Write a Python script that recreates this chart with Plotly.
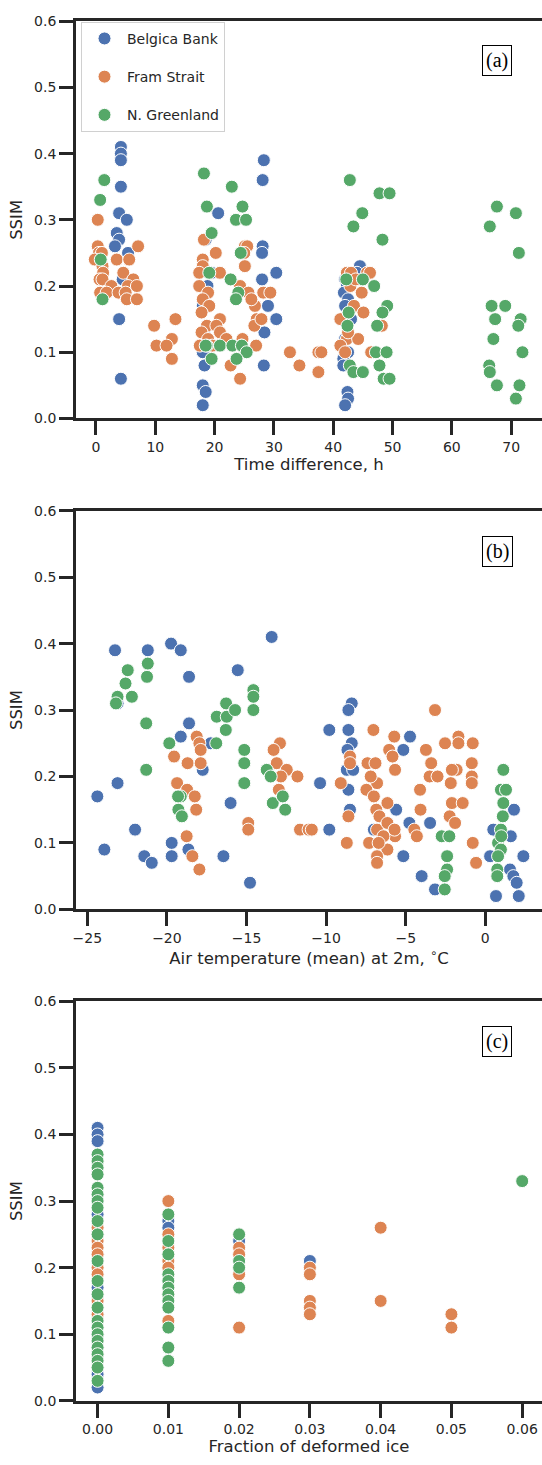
import plotly.graph_objects as go

# ---------------- data ----------------
series_names = ["Belgica Bank", "Fram Strait", "N. Greenland"]
series_colors = ["#4C72B0", "#DD8452", "#55A868"]

# panel (a): time difference, h
a_belgica_x = [4.2, 4.2, 4.2, 4.2, 3.9, 5.2, 3.5, 3.9, 3.2, 5.4, 4.5, 3.9, 4.2,
               20.6, 18.5, 19.5, 18.8, 18.0, 18.2, 18.0, 18.3, 18.0, 18.5, 18.0,
               28.3, 28.1, 28.1, 28.0, 30.4, 28.0, 29.0, 30.4, 28.4, 28.3,
               44.5, 44.0, 42.0, 42.3, 41.8, 42.5, 42.0, 43.0, 42.0, 42.5, 41.7, 41.7, 42.4, 42.5, 42.0]
a_belgica_y = [0.41, 0.40, 0.39, 0.35, 0.31, 0.30, 0.28, 0.27, 0.26, 0.25, 0.21, 0.15, 0.06,
               0.31, 0.27, 0.22, 0.20, 0.17, 0.13, 0.10, 0.08, 0.05, 0.04, 0.02,
               0.39, 0.36, 0.26, 0.25, 0.22, 0.21, 0.17, 0.15, 0.13, 0.08,
               0.23, 0.22, 0.21, 0.20, 0.19, 0.18, 0.17, 0.15, 0.12, 0.10, 0.09, 0.08, 0.04, 0.03, 0.02]
a_fram_x = [0.3, 0.3, 7.1, 0.5, 1.0, -0.2, 3.5, 5.6, 1.1, 1.2, 4.6, 0.6, 1.1, 6.3, 2.6, 5.4, 6.9, 0.7, 1.8, 3.8, 5.0, 5.2, 6.9,
            9.8, 13.4, 12.8, 10.2, 11.9, 12.8,
            18.2, 20.2, 18.0, 18.0, 17.4, 20.9, 17.4, 18.9, 18.0, 19.1, 17.8, 20.9, 18.7, 20.3, 17.8, 20.9, 18.9, 17.5, 19.6,
            22.0, 22.7, 24.3, 24.7, 24.5, 27.0,
            25.1, 25.5, 25.1, 24.3, 25.7, 26.8, 27.1, 26.7, 27.9, 28.2, 29.4, 26.2, 25.0,
            32.7, 34.3, 37.5, 38.0, 37.5,
            42.3, 43.0, 45.7, 46.2, 42.9, 44.8, 43.5, 41.2, 45.1, 42.3, 44.2, 41.2, 42.0, 46.4, 42.5, 48.2, 43.8]
a_fram_y = [0.30, 0.26, 0.26, 0.25, 0.25, 0.24, 0.24, 0.24, 0.23, 0.22, 0.22, 0.21, 0.21, 0.21, 0.20, 0.20, 0.20, 0.19, 0.19, 0.19, 0.19, 0.18, 0.18,
            0.14, 0.15, 0.12, 0.11, 0.11, 0.09,
            0.27, 0.25, 0.24, 0.23, 0.22, 0.22, 0.20, 0.19, 0.18, 0.17, 0.16, 0.15, 0.14, 0.14, 0.13, 0.13, 0.12, 0.11, 0.11,
            0.12, 0.08, 0.06, 0.12, 0.11, 0.11,
            0.26, 0.26, 0.23, 0.20, 0.19, 0.17, 0.15, 0.14, 0.15, 0.19, 0.19, 0.18, 0.25,
            0.10, 0.08, 0.10, 0.10, 0.07,
            0.22, 0.22, 0.22, 0.22, 0.20, 0.19, 0.17, 0.15, 0.16, 0.12, 0.12, 0.11, 0.10, 0.10, 0.13, 0.14, 0.21]
a_green_x = [1.4, 0.7, 0.8, 1.1,
             18.2, 18.7, 19.5, 19.1, 18.7, 20.9, 23.0, 19.5, 18.5,
             22.9, 24.7, 23.6, 25.3, 24.4, 22.7, 24.0, 23.6, 24.6, 25.4, 23.7,
             42.8, 47.8, 49.5, 44.9, 43.4, 48.3, 42.2, 45.0, 46.9, 49.1, 48.3, 42.6, 42.4, 47.4, 47.2, 49.0, 42.8, 43.4, 45.0, 47.8, 48.5, 49.5,
             67.6, 66.4, 70.8, 71.3, 66.7, 69.0, 67.3, 71.6, 71.2, 67.0, 71.9, 66.3, 66.4, 67.6, 71.4, 70.8]
a_green_y = [0.36, 0.33, 0.24, 0.18,
             0.37, 0.32, 0.28, 0.22, 0.11, 0.11, 0.11, 0.09, 0.11,
             0.35, 0.32, 0.30, 0.30, 0.25, 0.21, 0.19, 0.18, 0.11, 0.10, 0.09,
             0.36, 0.34, 0.34, 0.31, 0.29, 0.27, 0.21, 0.21, 0.20, 0.17, 0.16, 0.16, 0.14, 0.14, 0.10, 0.10, 0.08, 0.07, 0.07, 0.08, 0.06, 0.06,
             0.32, 0.29, 0.31, 0.25, 0.17, 0.17, 0.15, 0.15, 0.14, 0.12, 0.10, 0.08, 0.07, 0.05, 0.05, 0.03]

# panel (b): air temperature (mean) at 2 m, deg C
b_belgica_x = [-23.26, -21.2, -19.74, -19.13, -18.61, -13.42, -15.55, -18.61, -19.13, -17.75, -17.25, -23.1, -24.37, -16.0,
               -22.0, -23.93, -21.42, -20.95, -19.7, -19.7, -18.65, -16.45, -14.78, -23.1,
               -8.39, -8.6, -9.8, -8.6, -8.39, -8.66, -8.7, -8.3, -4.73, -5.15, -10.38, -8.6, -8.5, -9.8, -5.6, -4.77,
               -3.47, -5.15, -4.0, -3.16, 1.8, 0.5, 0.3, 2.39, 1.55, 1.76, 1.97, 0.67, 2.1, 1.6, -7.0]
b_belgica_y = [0.39, 0.39, 0.40, 0.39, 0.35, 0.41, 0.36, 0.28, 0.26, 0.21, 0.25, 0.19, 0.17, 0.16,
               0.12, 0.09, 0.08, 0.07, 0.10, 0.08, 0.09, 0.08, 0.04, 0.31,
               0.31, 0.30, 0.27, 0.27, 0.25, 0.24, 0.21, 0.21, 0.26, 0.24, 0.19, 0.18, 0.15, 0.12, 0.15, 0.13,
               0.13, 0.08, 0.05, 0.03, 0.15, 0.12, 0.08, 0.08, 0.06, 0.05, 0.04, 0.02, 0.02, 0.11, 0.12]
b_fram_x = [-18.13, -17.96, -17.88, -19.55, -18.7, -17.88, -19.36, -18.73, -18.25, -18.16, -14.89, -14.89, -18.76, -18.4, -17.96,
            -12.9, -13.3, -13.1, -12.47, -12.84, -11.8, -12.97, -11.64, -11.1, -10.9,
            -3.16, -7.03, -5.72, -2.53, -1.69, -1.69, -0.79, -6.04, -3.73, -5.83, -8.5, -8.5, -7.4, -6.9, -3.4, -0.85,
            -5.67, -1.8, -2.1, -3.5, -3.0, -0.85, -6.8, -2.17, -0.85, -9.08, -7.47, -4.1, -6.15, -2.1, -1.42, -6.85,
            -4.07, -2.24, -1.9, -8.6, -6.65, -4.46, -4.3, -6.8, -6.15, -5.67, -8.7, -7.3, -6.15, -0.79, -6.8, -6.8,
            -0.58, -6.4, -6.7, -5.7, -7.2, -7.0]
b_fram_y = [0.26, 0.25, 0.24, 0.23, 0.22, 0.22, 0.19, 0.18, 0.17, 0.15, 0.13, 0.12, 0.11, 0.08, 0.06,
            0.25, 0.24, 0.22, 0.21, 0.20, 0.20, 0.18, 0.12, 0.12, 0.12,
            0.30, 0.27, 0.26, 0.25, 0.26, 0.25, 0.25, 0.24, 0.24, 0.23, 0.23, 0.22, 0.22, 0.22, 0.22, 0.22,
            0.21, 0.21, 0.21, 0.20, 0.20, 0.20, 0.19, 0.19, 0.19, 0.19, 0.18, 0.18, 0.16, 0.16, 0.16, 0.15,
            0.15, 0.14, 0.13, 0.14, 0.14, 0.12, 0.11, 0.12, 0.13, 0.11, 0.10, 0.10, 0.09, 0.10, 0.08, 0.07,
            0.07, 0.11, 0.10, 0.12, 0.20, 0.17]
b_green_x = [-22.46, -21.2, -21.25, -22.6, -23.1, -23.2, -22.2, -21.3, -21.3, -19.85, -19.13, -19.28, -19.06, -19.3,
             -16.87, -16.24, -16.28, -15.72, -16.3, -16.9, -14.57, -14.57, -14.57, -15.14, -15.14, -15.14,
             -13.73, -13.48, -13.35, -12.72, -12.57,
             1.13, 0.98, 1.3, 1.13, 1.1, 0.98, 0.8, 0.98, 0.8, 0.75, 0.75, 1.0,
             -2.74, -2.26, -2.4, -2.4, -2.55, -2.55]
b_green_y = [0.36, 0.37, 0.35, 0.34, 0.32, 0.31, 0.32, 0.28, 0.21, 0.25, 0.17, 0.15, 0.14, 0.17,
             0.29, 0.29, 0.31, 0.30, 0.27, 0.25, 0.33, 0.32, 0.30, 0.24, 0.22, 0.19,
             0.21, 0.20, 0.16, 0.17, 0.15,
             0.21, 0.18, 0.18, 0.16, 0.14, 0.12, 0.10, 0.09, 0.08, 0.06, 0.05, 0.11,
             0.11, 0.11, 0.08, 0.06, 0.05, 0.03]

# panel (c): fraction of deformed ice
c_belgica_x = [0.00] * 23 + [0.01, 0.01, 0.02, 0.03]
c_belgica_y = [0.41, 0.40, 0.39, 0.35, 0.31, 0.30, 0.28, 0.26, 0.25, 0.22, 0.21, 0.17, 0.15, 0.13, 0.12, 0.10,
               0.09, 0.08, 0.06, 0.05, 0.04, 0.03, 0.02,
               0.27, 0.26, 0.24, 0.21]
c_fram_x = [0.00] * 9 + [0.01] * 7 + [0.02] * 4 + [0.03] * 5 + [0.04] * 2 + [0.05] * 2
c_fram_y = [0.26, 0.24, 0.23, 0.22, 0.20, 0.19, 0.15, 0.13, 0.12,
            0.30, 0.25, 0.23, 0.21, 0.20, 0.16, 0.12,
            0.23, 0.22, 0.19, 0.11,
            0.20, 0.19, 0.15, 0.14, 0.13,
            0.26, 0.15,
            0.13, 0.11]
c_green_x = [0.00] * 23 + [0.01] * 12 + [0.02] * 4 + [0.06]
c_green_y = [0.37, 0.36, 0.35, 0.34, 0.32, 0.31, 0.30, 0.29, 0.27, 0.25, 0.21, 0.18, 0.16, 0.14, 0.12, 0.11,
             0.10, 0.09, 0.08, 0.07, 0.06, 0.05, 0.03,
             0.28, 0.24, 0.22, 0.19, 0.18, 0.17, 0.16, 0.15, 0.14, 0.11, 0.08, 0.06,
             0.25, 0.21, 0.20, 0.17,
             0.33]

y_ticks = [0.0, 0.1, 0.2, 0.3, 0.4, 0.5, 0.6]
a_ticks = [0, 10, 20, 30, 40, 50, 60, 70]
b_ticks = [-25, -20, -15, -10, -5, 0]
c_ticks = [0.00, 0.01, 0.02, 0.03, 0.04, 0.05, 0.06]

panel_labels = ["(a)", "(b)", "(c)"]
x_titles = ["Time difference, h",
            "Air temperature (mean) at 2m, <sup>∘</sup>C",
            "Fraction of deformed ice"]
y_title = "SSIM"

# ---------------- figure ----------------
W, H = 542, 1465
ML = 76
fig = go.Figure()

panels = [
    ([a_belgica_x, a_fram_x, a_green_x], [a_belgica_y, a_fram_y, a_green_y]),
    ([b_belgica_x, b_fram_x, b_green_x], [b_belgica_y, b_fram_y, b_green_y]),
    ([c_belgica_x, c_fram_x, c_green_x], [c_belgica_y, c_fram_y, c_green_y]),
]
for p, (xs, ys) in enumerate(panels):
    sfx = "" if p == 0 else str(p + 1)
    for s in range(3):
        fig.add_trace(go.Scatter(
            x=xs[s], y=ys[s], mode="markers", name=series_names[s],
            legendgroup=series_names[s], showlegend=(p == 0),
            marker=dict(size=13, color=series_colors[s], line=dict(color="white", width=1)),
            xaxis="x" + sfx, yaxis="y" + sfx,
        ))

def ydom(top_px, bot_px):
    return [1 - bot_px / H, 1 - top_px / H]

doms = [ydom(13.3, 415.0), ydom(508.3, 911.3), ydom(1004.3, 1408.2)]
xranges = [[-3.37, 75.2], [-25.71, 3.56], [-0.00305, 0.0628]]
xticks = [a_ticks, b_ticks, c_ticks]
xfmts = ["d", "d", ".2f"]

axis_col = "#262626"
tick_font = dict(family="DejaVu Sans", size=14, color=axis_col)
title_font = dict(family="DejaVu Sans", size=16.5, color=axis_col)

layout = dict(
    width=W, height=H,
    margin=dict(l=ML, r=0, t=0, b=0),
    plot_bgcolor="white", paper_bgcolor="white",
    font=dict(family="DejaVu Sans", color=axis_col),
    legend=dict(x=(81 - ML) / (W - ML), y=1 - 14 / H, xanchor="left", yanchor="top",
                bgcolor="rgba(255,255,255,0.8)", bordercolor="#d0d0d0", borderwidth=1,
                font=dict(family="DejaVu Sans", size=14, color=axis_col),
                itemwidth=35, tracegroupgap=17),
)
for p in range(3):
    sfx = "" if p == 0 else str(p + 1)
    layout["xaxis" + sfx] = dict(
        domain=[0, 1], anchor="y" + sfx, range=xranges[p],
        tickmode="array", tickvals=xticks[p], tickformat=xfmts[p],
        showline=True, linewidth=2.7, linecolor=axis_col, mirror=True,
        ticks="outside", ticklen=14, tickwidth=2.7, tickcolor=axis_col,
        showgrid=False, zeroline=False, tickfont=tick_font,
        title=dict(text=x_titles[p], font=title_font, standoff=4),
    )
    layout["yaxis" + sfx] = dict(
        domain=doms[p], anchor="x" + sfx, range=[0, 0.6],
        tickmode="array", tickvals=y_ticks, tickformat=".1f",
        showline=True, linewidth=2.7, linecolor=axis_col, mirror=False,
        ticks="outside", ticklen=14, tickwidth=2.7, tickcolor=axis_col,
        showgrid=False, zeroline=False, tickfont=tick_font,
        title=dict(text=y_title, font=title_font, standoff=8),
    )
fig.update_layout(**layout)

label_y_px = [53.0, 549.0, 1044.7]
for p in range(3):
    fig.add_annotation(
        text=panel_labels[p], xref="paper", yref="paper",
        x=(497 - ML) / (W - ML), y=1 - label_y_px[p] / H,
        xanchor="center", yanchor="middle", showarrow=False,
        font=dict(family="Liberation Serif", size=20, color="black"),
        bordercolor="black", borderwidth=1, borderpad=3, bgcolor="white",
    )

fig.write_html("out.html", config={"displayModeBar": False},
               post_script="document.body.style.margin='0';document.body.style.padding='0';")
